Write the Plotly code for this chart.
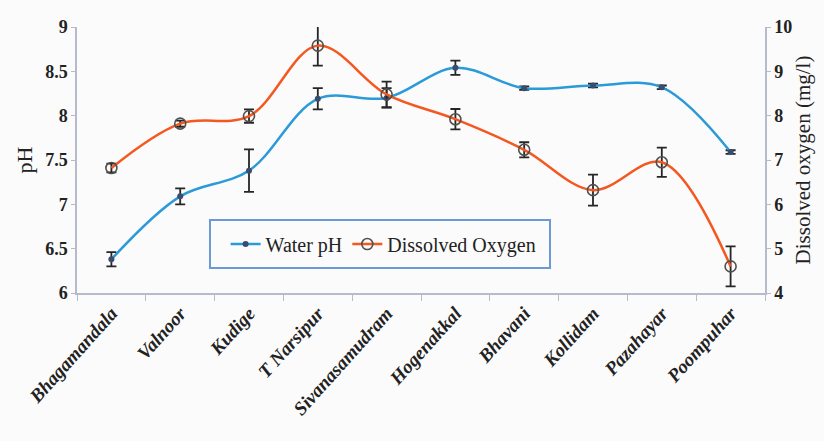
import plotly.graph_objects as go

# Sampling sites along the river
sites = ["Bhagamandala", "Valnoor", "Kudige", "T Narsipur", "Sivanasamudram",
         "Hogenakkal", "Bhavani", "Kollidam", "Pazahayar", "Poompuhar"]

# Water pH (mean and standard deviation)
ph_mean = [6.38, 7.09, 7.38, 8.19, 8.20, 8.54, 8.31, 8.34, 8.32, 7.59]
ph_sd = [0.08, 0.09, 0.24, 0.12, 0.11, 0.08, 0.02, 0.02, 0.02, 0.02]

# Dissolved oxygen in mg/l (mean and standard deviation)
do_mean = [6.82, 7.82, 7.99, 9.58, 8.48, 7.92, 7.23, 6.32, 6.95, 4.60]
do_sd = [0.10, 0.07, 0.15, 0.45, 0.29, 0.23, 0.17, 0.35, 0.33, 0.45]

ph_ticks = [6, 6.5, 7, 7.5, 8, 8.5, 9]
do_ticks = [4, 5, 6, 7, 8, 9, 10]

SERIF = "Liberation Serif"
BG = "#fbfbfb"
AXIS = "#b6bacb"
INK = "#222222"

fig = go.Figure()

fig.add_trace(go.Scatter(
    x=sites, y=ph_mean, name="Water pH", mode="lines+markers",
    line=dict(color="#2b9ad8", width=2.5, shape="spline", smoothing=1),
    marker=dict(symbol="circle", size=6, color="#3b4d6e"),
    error_y=dict(type="data", array=ph_sd, color="#262626", thickness=1.8, width=5),
))

fig.add_trace(go.Scatter(
    x=sites, y=do_mean, name="Dissolved Oxygen", mode="lines+markers", yaxis="y2",
    line=dict(color="#f4571f", width=2.5, shape="spline", smoothing=1),
    marker=dict(symbol="circle-open", size=11, color="#505050", line=dict(width=1.6)),
    error_y=dict(type="data", array=do_sd, color="#262626", thickness=1.8, width=5),
))

# Framed legend box
fig.add_shape(type="rect", xref="paper", yref="paper",
              x0=0.1933, x1=0.6875, y0=0.094, y1=0.2744,
              line=dict(color="#6c9ad6", width=2), fillcolor=BG, layer="below")

tick_font = dict(family=SERIF, size=18, weight="bold", color=INK)

fig.update_layout(
    width=824, height=441,
    margin=dict(l=77, r=59, t=27, b=148),
    paper_bgcolor=BG, plot_bgcolor=BG,
    font=dict(family=SERIF, color=INK),
    showlegend=True,
    legend=dict(orientation="h", x=0.216, y=0.184, xanchor="left", yanchor="middle",
                bgcolor="rgba(0,0,0,0)", borderwidth=0,
                font=dict(family=SERIF, size=20, color=INK),
                itemwidth=30),
    xaxis=dict(
        type="category", tickson="boundaries", ticks="outside", ticklen=6,
        tickcolor=AXIS, showline=True, linecolor=AXIS, linewidth=1.5,
        showgrid=False, tickangle=-48,
        tickfont=dict(family=SERIF, size=19, weight="bold", style="italic", color=INK),
        range=[-0.5, 9.5],
    ),
    yaxis=dict(
        range=[6, 9], tickvals=ph_ticks, ticks="outside", ticklen=4, tickcolor=AXIS,
        showline=True, linecolor=AXIS, linewidth=1.5, showgrid=False, zeroline=False,
        tickfont=tick_font,
        title=dict(text="pH", font=dict(family=SERIF, size=22), standoff=6),
        automargin=False,
    ),
    yaxis2=dict(
        range=[4, 10], tickvals=do_ticks, overlaying="y", side="right",
        ticks="outside", ticklen=4, tickcolor=AXIS,
        showline=True, linecolor=AXIS, linewidth=1.5, showgrid=False, zeroline=False,
        tickfont=tick_font,
        title=dict(text="Dissolved oxygen (mg/l)", font=dict(family=SERIF, size=21), standoff=4),
        automargin=False,
    ),
)

fig.write_html("out.html")
